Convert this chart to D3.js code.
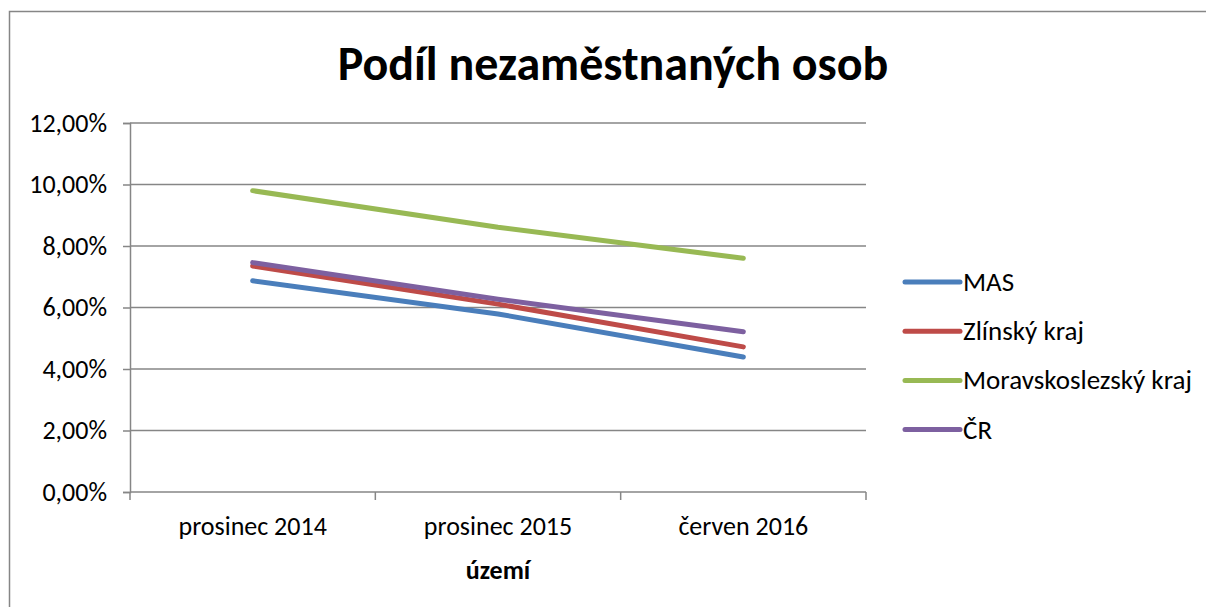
<!DOCTYPE html>
<html>
<head>
<meta charset="utf-8">
<script src="https://cdn.jsdelivr.net/npm/d3@7"></script>
<style>
    body { margin: 0; background: #fff; }
    svg { display: block; font-family: Carlito, Calibri, "Open Sans", sans-serif; }
</style>
</head>
<body>
<svg id="chart" width="1206" height="607"></svg>
<script>
(function () {

    var categories = ['prosinec 2014', 'prosinec 2015', 'červen 2016'];
    var seriesNames = ['MAS', 'Zlínský kraj', 'Moravskoslezský kraj', 'ČR'];
    var seriesColors = ['#4a7ebb', '#be4b48', '#98b954', '#7d60a0'];
    var mas = [6.87, 5.79, 4.39];
    var zlin = [7.35, 6.11, 4.72];
    var moravskoslezsky = [9.80, 8.61, 7.60];
    var cr = [7.46, 6.27, 5.21];
    var yTicks = [0, 2, 4, 6, 8, 10, 12];

    var seriesValues = [mas, zlin, moravskoslezsky, cr];

    var svg = d3.select('#chart');
    var plot = { left: 130, right: 866, top: 123, bottom: 492 };

    // outer frame of the chart, runs off the right and bottom edge
    svg.append('rect')
        .attr('x', 9.5).attr('y', 11.5)
        .attr('width', 1220).attr('height', 620)
        .attr('fill', 'none').attr('stroke', '#868686').attr('stroke-width', 1.5);

    var x = d3.scaleBand().domain(categories).range([plot.left, plot.right]);
    var y = d3.scaleLinear().domain([0, 12]).range([plot.bottom, plot.top]);

    var fmt = function (d) { return d3.format('.2f')(d).replace('.', ',') + '%'; };

    // horizontal grid
    svg.append('g')
        .selectAll('line')
        .data(yTicks)
        .enter().append('line')
            .attr('x1', plot.left).attr('x2', plot.right)
            .attr('y1', function (d) { return y(d); })
            .attr('y2', function (d) { return y(d); })
            .attr('stroke', '#868686').attr('stroke-width', 1.5);

    var yAxis = svg.append('g')
        .attr('transform', 'translate(' + plot.left + ',0)')
        .call(d3.axisLeft(y).tickValues(yTicks).tickFormat(fmt).tickSize(7).tickPadding(16));
    yAxis.attr('font-family', null).attr('font-size', 26);
    yAxis.select('.domain').attr('stroke', '#868686').attr('stroke-width', 1.5);
    yAxis.selectAll('.tick line').attr('stroke', '#868686').attr('stroke-width', 1.5);
    yAxis.selectAll('text').attr('fill', '#000');

    var xAxis = svg.append('g')
        .attr('transform', 'translate(0,' + plot.bottom + ')')
        .call(d3.axisBottom(x).tickSize(0).tickPadding(25));
    xAxis.attr('font-family', null).attr('font-size', 26);
    xAxis.select('.domain').remove();
    xAxis.selectAll('text').attr('fill', '#000');

    // x axis boundary ticks between categories
    var bounds = categories.map(function (c) { return x(c); }).concat([plot.right]);
    svg.append('g')
        .selectAll('line')
        .data(bounds)
        .enter().append('line')
            .attr('x1', function (d) { return d; }).attr('x2', function (d) { return d; })
            .attr('y1', plot.bottom).attr('y2', plot.bottom + 8)
            .attr('stroke', '#868686').attr('stroke-width', 1.5);

    var line = d3.line()
        .x(function (d, i) { return x(categories[i]) + x.bandwidth() / 2; })
        .y(function (d) { return y(d); });

    svg.append('g')
        .selectAll('path')
        .data(seriesValues)
        .enter().append('path')
            .attr('d', line)
            .attr('fill', 'none')
            .attr('stroke', function (d, i) { return seriesColors[i]; })
            .attr('stroke-width', 5)
            .attr('stroke-linecap', 'round')
            .attr('stroke-linejoin', 'round');

    // title and axis title
    svg.append('text')
        .attr('x', 613).attr('y', 80)
        .attr('text-anchor', 'middle')
        .attr('font-size', 48).attr('font-weight', 'bold')
        .text('Podíl nezaměstnaných osob');

    svg.append('text')
        .attr('x', 498).attr('y', 579)
        .attr('text-anchor', 'middle')
        .attr('font-size', 26).attr('font-weight', 'bold')
        .text('území');

    // legend
    var legend = svg.append('g')
        .selectAll('g')
        .data(seriesNames)
        .enter().append('g')
            .attr('transform', function (d, i) { return 'translate(905,' + (282 + i * 49.2) + ')'; });
    legend.append('line')
        .attr('x1', 0).attr('x2', 55)
        .attr('stroke', function (d, i) { return seriesColors[i]; })
        .attr('stroke-width', 5).attr('stroke-linecap', 'round');
    legend.append('text')
        .attr('x', 58).attr('y', 9)
        .attr('font-size', 27)
        .text(function (d) { return d; });

})();
</script>
</body>
</html>
